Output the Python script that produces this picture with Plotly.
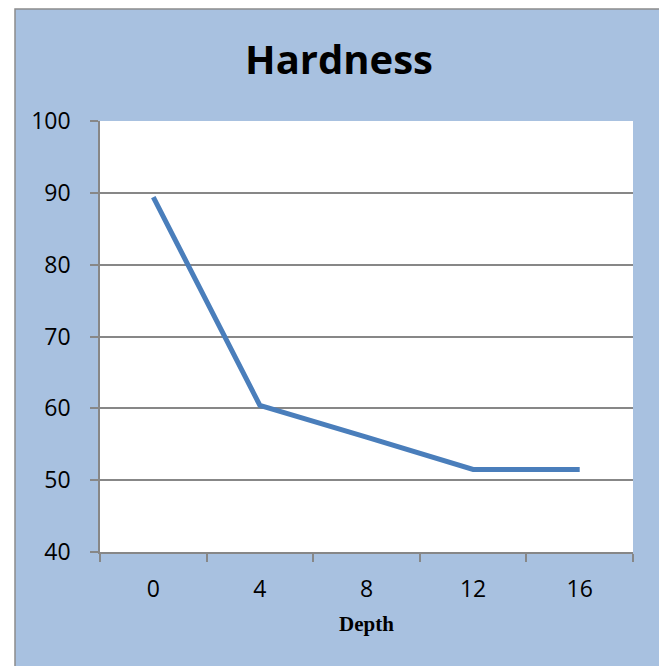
import plotly.graph_objs as go

depth = ['0', '4', '8', '12', '16']
hardness = [89.4, 60.4, 56.0, 51.5, 51.5]

y_ticks = [40, 50, 60, 70, 80, 90, 100]

BLUE = '#A8C1E0'
GRID = '#878787'

# the page body adds an 8px offset, so the figure is laid out 8px smaller
W, H = 659, 658
L, R, T, B = 92, 34, 113, 114

data = go.Scatter(x=depth, y=hardness, mode='lines',
                  line=dict(color='#4A7EBB', width=5), showlegend=False)

# white page margin around the blue chart area, with a grey border
px = lambda v: (v - L) / (W - L - R)
py = lambda v: (H - B - v) / (H - T - B)
shapes = [
    dict(type='rect', xref='paper', yref='paper', x0=px(-5), x1=px(7), y0=py(-5), y1=py(H + 5),
         fillcolor='white', line=dict(width=0), layer='above'),
    dict(type='rect', xref='paper', yref='paper', x0=px(-5), x1=px(W + 5), y0=py(-5), y1=py(1),
         fillcolor='white', line=dict(width=0), layer='above'),
    dict(type='rect', xref='paper', yref='paper', x0=px(654), x1=px(W + 5), y0=py(-5), y1=py(H + 5),
         fillcolor='white', line=dict(width=0), layer='above'),
    dict(type='rect', xref='paper', yref='paper', x0=px(7), x1=px(654), y0=py(1), y1=py(H + 20),
         fillcolor='rgba(0,0,0,0)', line=dict(color='#8C8C8C', width=1.5), layer='above'),
]

layout = go.Layout(
    width=W, height=H, autosize=False,
    margin=dict(l=L, r=R, t=T, b=B),
    paper_bgcolor=BLUE, plot_bgcolor='white',
    title=dict(text='<b>Hardness</b>', x=331 / W, xanchor='center', y=1 - 52 / H, yanchor='middle',
               font=dict(family='Open Sans', size=40, color='black')),
    xaxis=dict(type='category', range=[-0.5, 4.5], tickson='boundaries', ticks='outside',
               ticklen=8, tickcolor=GRID, tickwidth=1.5, showgrid=False,
               showline=True, linecolor=GRID, linewidth=1.5, ticklabelstandoff=16,
               tickfont=dict(family='Open Sans', size=23, color='black'),
               title=dict(text='<b>Depth</b>', standoff=13,
                          font=dict(family='Liberation Serif', size=21, color='black'))),
    yaxis=dict(range=[40, 100], tickvals=y_ticks, ticks='outside', ticklen=8, tickcolor=GRID,
               tickwidth=1.5, showgrid=True, gridcolor=GRID, gridwidth=1.5, zeroline=False,
               showline=True, linecolor=GRID, linewidth=1.5, ticklabelstandoff=15,
               tickfont=dict(family='Open Sans', size=23, color='black')),
    shapes=shapes,
)

fig = go.Figure(data=[data], layout=layout)
fig.write_html('out.html')
